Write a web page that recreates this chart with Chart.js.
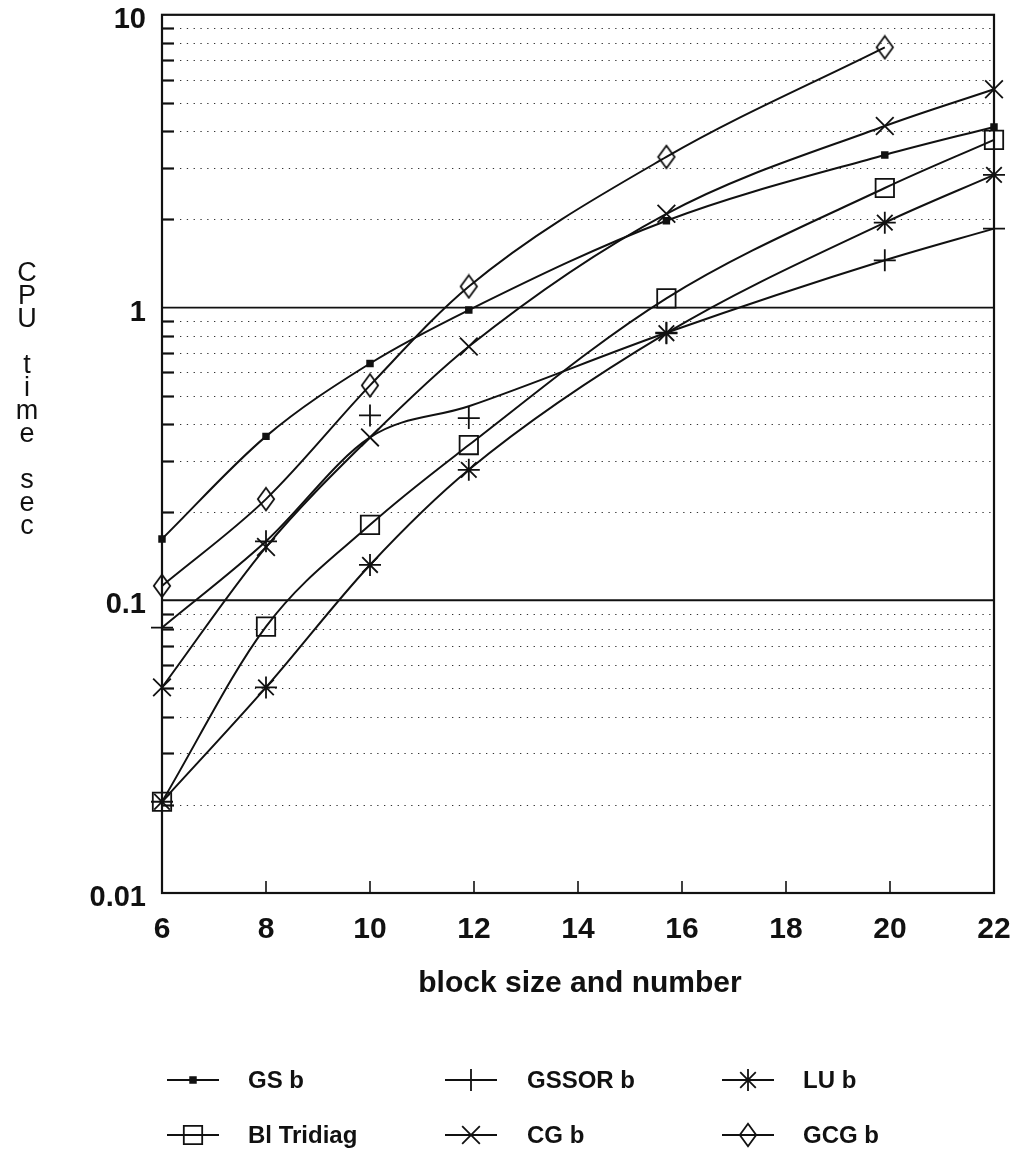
<!DOCTYPE html>
<html>
<head>
<meta charset="utf-8">
<script src="https://cdn.jsdelivr.net/npm/chart.js@4/dist/chart.umd.min.js"></script>
<style>
  html, body { margin: 0; padding: 0; background: #fff; }
  #wrap { width: 1025px; height: 1153px; position: relative; }
</style>
</head>
<body>
<div id="wrap"><canvas id="cpu" width="1025" height="1153"></canvas></div>
<script>
// Block size and number (x) and CPU time in seconds (y) for each solver
const blockSizes = [6, 8, 10, 11.9, 15.7, 19.9, 22];
const gsB        = [0.162, 0.363, 0.644, 0.98, 1.98, 3.32, 4.14];
const gssorB     = [0.0806, 0.159, 0.428, 0.419, 0.82, 1.45, 1.86];
const gssorFit   = [0.0806, 0.159, 0.36, 0.46, 0.82, 1.45, 1.86];
const luB        = [0.0205, 0.0504, 0.132, 0.279, 0.817, 1.95, 2.84];
const biTridiag  = [0.0205, 0.0813, 0.181, 0.339, 1.075, 2.56, 3.74];
const cgB        = [0.0504, 0.152, 0.36, 0.736, 2.09, 4.17, 5.57];
const gcgB       = [0.112, 0.2216, 0.542, 1.18, 3.27, 7.74, null];

const xTickValues = [6, 8, 10, 12, 14, 16, 18, 20, 22];
const yTickValues = [10, 1, 0.1, 0.01];
const yTickLabels = ['10', '1', '0.1', '0.01'];
const xTitle = 'block size and number';
const yTitle = 'CPU time sec';

const INK = '#111';
const FONT = '"Liberation Sans", Arial, Helvetica, sans-serif';

function pts(arr) {
  return blockSizes.map((x, i) => ({ x: x, y: arr[i] })).filter(p => p.y != null);
}

// tall open diamond used for the GCG markers
function makeDiamond(w, h, lw) {
  const c = document.createElement('canvas');
  c.width = w + 2 * lw; c.height = h + 2 * lw;
  const g = c.getContext('2d');
  g.lineWidth = lw; g.strokeStyle = INK; g.lineJoin = 'miter';
  g.beginPath();
  g.moveTo(c.width / 2, lw);
  g.lineTo(c.width - lw, c.height / 2);
  g.lineTo(c.width / 2, c.height - lw);
  g.lineTo(lw, c.height / 2);
  g.closePath();
  g.stroke();
  return c;
}
const diamond = makeDiamond(17, 23, 1.8);

const base = {
  borderColor: INK,
  borderWidth: 2,
  pointBorderColor: INK,
  pointBorderWidth: 1.8,
  pointBackgroundColor: 'rgba(0,0,0,0)',
  cubicInterpolationMode: 'monotone',
  showLine: true,
  fill: false,
  clip: false
};

const datasets = [
  Object.assign({}, base, { label: 'GS b', data: pts(gsB), pointStyle: 'rect', pointRadius: 4, pointBackgroundColor: INK }),
  Object.assign({}, base, { label: 'GSSOR b', data: pts(gssorFit), pointRadius: 0 }),
  Object.assign({}, base, { label: 'GSSOR b', data: pts(gssorB), showLine: false, pointStyle: 'cross', pointRadius: 11 }),
  Object.assign({}, base, { label: 'LU b', data: pts(luB), pointStyle: 'star', pointRadius: 11 }),
  Object.assign({}, base, { label: 'Bl Tridiag', data: pts(biTridiag), pointStyle: 'rect', pointRadius: 13 }),
  Object.assign({}, base, { label: 'CG b', data: pts(cgB), pointStyle: 'crossRot', pointRadius: 12.5 }),
  Object.assign({}, base, { label: 'GCG b', data: pts(gcgB), pointStyle: diamond, pointRadius: 12 })
];

// legend rows: [label, dataset index used for the sample]
const legendItems = [
  ['GS b', 0], ['GSSOR b', 2], ['LU b', 3],
  ['Bl Tridiag', 4], ['CG b', 5], ['GCG b', 6]
];

const framePlugin = {
  id: 'frame',
  beforeDatasetsDraw(chart) {
    const { ctx, chartArea: a, scales: { x, y } } = chart;
    ctx.save();
    // dotted minor grid + minor ticks on the left axis
    for (let d = 0.01; d < 10; d *= 10) {
      for (let m = 2; m <= 9; m++) {
        const py = Math.round(y.getPixelForValue(d * m)) + 0.5;
        ctx.setLineDash([1.3, 5.5]);
        ctx.strokeStyle = '#333';
        ctx.lineWidth = 1.2;
        ctx.beginPath(); ctx.moveTo(a.left + 18, py); ctx.lineTo(a.right - 2, py); ctx.stroke();
        ctx.setLineDash([]);
        ctx.strokeStyle = INK;
        ctx.lineWidth = 2.2;
        ctx.beginPath(); ctx.moveTo(a.left, py); ctx.lineTo(a.left + 12, py); ctx.stroke();
      }
    }
    // solid decade lines
    ctx.setLineDash([]);
    ctx.strokeStyle = INK;
    ctx.lineWidth = 1.8;
    [0.1, 1].forEach(v => {
      const py = y.getPixelForValue(v);
      ctx.beginPath(); ctx.moveTo(a.left, py); ctx.lineTo(a.right, py); ctx.stroke();
    });
    // x tick marks pointing into the plot
    ctx.lineWidth = 1.6;
    xTickValues.slice(1, -1).forEach(v => {
      const px = x.getPixelForValue(v);
      ctx.beginPath(); ctx.moveTo(px, a.bottom); ctx.lineTo(px, a.bottom - 12); ctx.stroke();
    });
    // frame
    ctx.lineWidth = 2.2;
    ctx.strokeRect(a.left, a.top, a.right - a.left, a.bottom - a.top);
    ctx.restore();
  },
  afterDraw(chart) {
    const { ctx, chartArea: a, scales: { x, y } } = chart;
    ctx.save();
    ctx.fillStyle = INK;
    // y tick labels
    ctx.font = 'bold 29px ' + FONT;
    ctx.textAlign = 'right';
    ctx.textBaseline = 'middle';
    yTickValues.forEach((v, i) => {
      ctx.fillText(yTickLabels[i], 146, y.getPixelForValue(v) + 5);
    });
    // x tick labels
    ctx.font = 'bold 30px ' + FONT;
    ctx.textAlign = 'center';
    xTickValues.forEach(v => {
      ctx.fillText(String(v), x.getPixelForValue(v), 930);
    });
    // x title
    ctx.font = 'bold 30px ' + FONT;
    ctx.textBaseline = 'alphabetic';
    ctx.fillText(xTitle, 580, 992);
    // y title, one letter per row
    ctx.font = '27px ' + FONT;
    let row = 0;
    for (const ch of yTitle) {
      if (ch !== ' ') ctx.fillText(ch, 27, 281 + row * 23);
      row++;
    }
    // legend
    const cols = [[167, 219, 248], [445, 497, 527], [722, 774, 803]];
    const rows = [1080, 1135];
    legendItems.forEach(([label, di], k) => {
      const [x0, x1, tx] = cols[k % 3];
      const ly = rows[Math.floor(k / 3)];
      const ds = chart.data.datasets[di];
      ctx.strokeStyle = INK;
      ctx.lineWidth = 2;
      ctx.beginPath(); ctx.moveTo(x0, ly); ctx.lineTo(x1, ly); ctx.stroke();
      ctx.fillStyle = ds.pointBackgroundColor;
      ctx.lineWidth = ds.pointBorderWidth;
      Chart.helpers.drawPoint(ctx, {
        pointStyle: ds.pointStyle, radius: ds.pointRadius, rotation: 0, borderWidth: ds.pointBorderWidth
      }, (x0 + x1) / 2, ly);
      ctx.fillStyle = INK;
      ctx.font = 'bold 24px ' + FONT;
      ctx.textAlign = 'left';
      ctx.textBaseline = 'middle';
      ctx.fillText(label, tx, ly + 1);
    });
    ctx.restore();
  }
};

new Chart(document.getElementById('cpu').getContext('2d'), {
  type: 'scatter',
  data: { datasets: datasets },
  options: {
    responsive: false,
    animation: false,
    devicePixelRatio: 1,
    layout: { padding: { left: 162, right: 31, top: 13, bottom: 260 } },
    plugins: { legend: { display: false }, tooltip: { enabled: false } },
    scales: {
      x: { type: 'linear', min: 6, max: 22, display: false },
      y: { type: 'logarithmic', min: 0.01, max: 10, display: false }
    }
  },
  plugins: [framePlugin]
});
</script>
</body>
</html>
